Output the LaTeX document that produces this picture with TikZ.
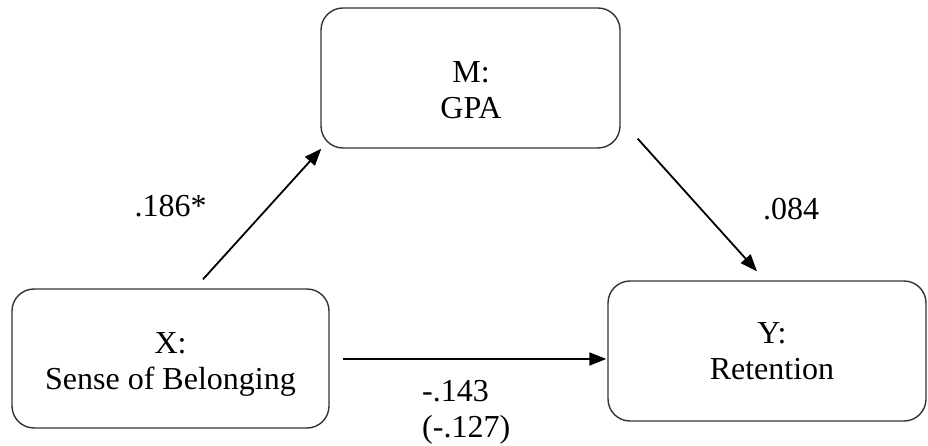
\documentclass[tikz,border=0pt]{standalone}
\usepackage{fontspec}
\setmainfont{Liberation Serif}
\usetikzlibrary{arrows.meta}
\begin{document}
\begin{tikzpicture}[x=1pt,y=-1pt,
  box/.style={draw=black!80, line width=1.4pt, rounded corners=22pt, inner sep=0pt},
  txt/.style={font=\fontsize{32}{36}\selectfont, inner sep=0pt, align=center, anchor=north},
  conn/.style={line width=1.8pt, -{Triangle[length=17pt,width=13pt]}},
  lab/.style={font=\fontsize{32}{36}\selectfont, inner sep=0pt}]
\useasboundingbox (0,0) rectangle (928,446);
\node[box, minimum width=299pt, minimum height=140pt] (M) at (470.5,78) {};
\node[box, minimum width=317pt, minimum height=139pt] (X) at (170.5,358.5) {};
\node[box, minimum width=318pt, minimum height=140pt] (Y) at (767,351) {};
\node[txt] (Mt) at (471,61) {M:\\GPA};
\node[txt] (Xt) at (170.5,332) {X:\\Sense of Belonging};
\node[txt] (Yt) at (772,322) {Y:\\Retention};
\draw[conn] ([shift={(32.5,-9)}]X.north) -- ([shift={(1,0)}]M.south west);
\draw[conn] ([shift={(17,-10)}]M.south east) -- ([shift={(-10,-9)}]Y.north);
\draw[conn] ([shift={(13,0.5)}]X.east) -- ([shift={(-1,0.5)}]X.east -| Y.west);
\node[lab] (l1) at (170.5,206) {.186*};
\node[lab] (l2) at (791,209) {.084};
\node[lab, align=left, anchor=north west] (l3) at (422,380.5) {-.143\\(-.127)};
\end{tikzpicture}
\end{document}
